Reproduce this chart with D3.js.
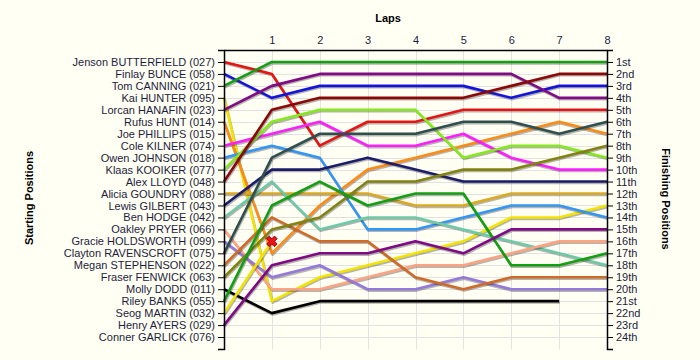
<!DOCTYPE html>
<html><head><meta charset="utf-8">
<script src="https://cdn.jsdelivr.net/npm/d3@7"></script>
<style>
html,body{margin:0;padding:0;background:#fffff4;}
svg{display:block;font-family:"Liberation Sans",Arial,sans-serif;}
</style>
</head><body>
<svg id="chart" width="700" height="360"></svg>
<script>
// ---------- data ----------
const laps = [0, 1, 2, 3, 4, 5, 6, 7, 8];
const lapLabels = ["", "1", "2", "3", "4", "5", "6", "7", "8"];
const startingGrid = [
  "Jenson BUTTERFIELD (027)", "Finlay BUNCE (058)", "Tom CANNING (021)", "Kai HUNTER (095)",
  "Lorcan HANAFIN (023)", "Rufus HUNT (014)", "Joe PHILLIPS (015)", "Cole KILNER (074)",
  "Owen JOHNSON (018)", "Klaas KOOIKER (077)", "Alex LLOYD (048)", "Alicia GOUNDRY (088)",
  "Lewis GILBERT (043)", "Ben HODGE (042)", "Oakley PRYER (066)", "Gracie HOLDSWORTH (099)",
  "Clayton RAVENSCROFT (075)", "Megan STEPHENSON (022)", "Fraser FENWICK (063)", "Molly DODD (011)",
  "Riley BANKS (055)", "Seog MARTIN (032)", "Henry AYERS (029)", "Conner GARLICK (076)"
];
const finishLabels = [
  "1st","2nd","3rd","4th","5th","6th","7th","8th","9th","10th","11th","12th",
  "13th","14th","15th","16th","17th","18th","19th","20th","21st","22nd","23rd","24th"
];
// positions by lap (lap 0 = starting grid)
const posButterfield = [1, 2, 8, 6, 6, 5, 5, 5, 5];
const posBunce       = [2, 4, 3, 3, 3, 3, 4, 3, 3];
const posCanning     = [3, 1, 1, 1, 1, 1, 1, 1, 1];
const posHunter      = [4, 21, 19, 18, 17, 16, 14, 14, 13];
const posHanafin     = [5, 3, 2, 2, 2, 2, 2, 4, 4];
const posHunt        = [6, 17, 13, 10, 9, 8, 7, 6, 7];
const posKilner      = [8, 7, 6, 8, 8, 7, 9, 10, 10];
const posJohnson     = [9, 8, 9, 15, 15, 14, 13, 13, 14];
const posKooiker     = [10, 6, 5, 5, 5, 9, 8, 8, 9];
const posLloyd       = [11, 5, 4, 4, 4, 4, 3, 2, 2];
const posGoundry     = [12, 12, 12, 12, 13, 13, 12, 12, 12];
const posGilbert     = [13, 10, 10, 9, 10, 11, 11, 11, 11];
const posHodge       = [14, 11, 15, 14, 14, 15, 16, 17, 18];
const posPryer       = [15, 20, 20, 19, 18, 18, 17, 16, 16];
const posHoldsworth  = [16, 19, 18, 20, 20, 19, 20, 20, 20];
const posRavenscroft = [17, 9, 7, 7, 7, 6, 6, 7, 6];
const posStephenson  = [18, 14, 16, 16, 19, 20, 19, 19, 19];
const posFenwick     = [19, 15, 14, 11, 11, 10, 10, 9, 8];
const posDodd        = [20, 22, 21, 21, 21, 21, 21, 21];
const posBanks       = [21, 13, 11, 13, 12, 12, 18, 18, 17];
const posMartin      = [22, 16];
const posAyers       = [23, 18, 17, 17, 16, 17, 15, 15, 15];
const retired = [{driver: "Seog MARTIN (032)", lap: 1, pos: 16}];

const series = [
  {driver: startingGrid[0],  pos: posButterfield, color: "#e81414"},
  {driver: startingGrid[1],  pos: posBunce,       color: "#1414dc"},
  {driver: startingGrid[2],  pos: posCanning,     color: "#12a012"},
  {driver: startingGrid[3],  pos: posHunter,      color: "#f2e400"},
  {driver: startingGrid[4],  pos: posHanafin,     color: "#800a86"},
  {driver: startingGrid[5],  pos: posHunt,        color: "#ff8a14"},
  {driver: startingGrid[7],  pos: posKilner,      color: "#ff1eff"},
  {driver: startingGrid[8],  pos: posJohnson,     color: "#3296f5"},
  {driver: startingGrid[9],  pos: posKooiker,     color: "#84ea1c"},
  {driver: startingGrid[10], pos: posLloyd,       color: "#8c0808"},
  {driver: startingGrid[11], pos: posGoundry,     color: "#dcaa22"},
  {driver: startingGrid[12], pos: posGilbert,     color: "#1c1c6c"},
  {driver: startingGrid[13], pos: posHodge,       color: "#6ccaa8"},
  {driver: startingGrid[14], pos: posPryer,       color: "#ffa482"},
  {driver: startingGrid[15], pos: posHoldsworth,  color: "#9478dc"},
  {driver: startingGrid[16], pos: posRavenscroft, color: "#2f4f4f"},
  {driver: startingGrid[17], pos: posStephenson,  color: "#d06a28"},
  {driver: startingGrid[18], pos: posFenwick,     color: "#828210"},
  {driver: startingGrid[19], pos: posDodd,        color: "#000000"},
  {driver: startingGrid[20], pos: posBanks,       color: "#12a012"},
  {driver: startingGrid[21], pos: posMartin,      color: "#f2e400"},
  {driver: startingGrid[22], pos: posAyers,       color: "#800a86"}
];

// ---------- layout ----------
const svg = d3.select("#chart");
const plotLeft = 224, plotRight = 607, plotTop = 50, plotBottom = 349;
const x = d3.scaleLinear().domain([0, 8]).range([plotLeft, plotRight]);
const y = d3.scaleLinear().domain([0, 25]).range([plotTop, plotBottom]);
const textColor = "#1c1c3c";

svg.append("rect").attr("width", 700).attr("height", 360).attr("fill", "#fffff4");

// grid
const grid = svg.append("g").attr("stroke", "#e2e2e2").attr("stroke-width", 1);
grid.selectAll("line.h").data(d3.range(1, 25)).join("line").attr("class", "h")
  .attr("x1", plotLeft).attr("x2", plotRight)
  .attr("y1", d => Math.round(y(d)) + 0.5).attr("y2", d => Math.round(y(d)) + 0.5);
grid.selectAll("line.v").data(laps.slice(1, 8)).join("line").attr("class", "v")
  .attr("y1", plotTop).attr("y2", plotBottom)
  .attr("x1", d => Math.round(x(d)) + 0.5).attr("x2", d => Math.round(x(d)) + 0.5);

// lines
const line = d3.line().x((d, i) => x(laps[i])).y(d => y(d));
const lines = svg.append("g").attr("fill", "none").attr("stroke-linejoin", "round");
series.forEach(s => {
  lines.append("path").attr("d", line(s.pos))
    .attr("stroke", "rgba(40,40,40,0.35)").attr("stroke-width", 2.6)
    .attr("transform", "translate(0.8,1.4)");
  lines.append("path").attr("d", line(s.pos))
    .attr("stroke", s.color).attr("stroke-width", 2.6);
});

// retirement markers
svg.selectAll("path.xmark").data(retired).join("path").attr("class", "xmark")
  .attr("d", d3.symbol(d3.symbolCross, 70)())
  .attr("transform", d => `translate(${x(d.lap)},${y(d.pos)}) rotate(45)`)
  .attr("fill", "#ee1111").attr("stroke", "#7a0000").attr("stroke-width", 0.8);

// axes
function styleAxis(g) {
  g.selectAll("path.domain").attr("stroke", "#000").attr("stroke-width", 1.5);
  g.selectAll(".tick line").attr("stroke", "#000");
  g.selectAll("text").attr("fill", textColor).attr("font-size", "11px")
    .attr("font-family", '"Liberation Sans", Arial, sans-serif');
}
svg.append("g").attr("transform", `translate(${plotLeft},0)`)
  .call(d3.axisLeft(y).tickValues(d3.range(0, 26)).tickSize(6).tickPadding(3)
    .tickFormat(d => startingGrid[d - 1] || ""))
  .call(styleAxis);
svg.append("g").attr("transform", `translate(${plotRight},0)`)
  .call(d3.axisRight(y).tickValues(d3.range(0, 26)).tickSize(6).tickPadding(3)
    .tickFormat(d => finishLabels[d - 1] || ""))
  .call(styleAxis);
svg.append("g").attr("transform", `translate(0,${plotTop})`)
  .call(d3.axisTop(x).tickValues(laps).tickSize(0).tickSizeOuter(0).tickPadding(6)
    .tickFormat((d, i) => lapLabels[i]))
  .call(styleAxis);

// titles
const title = (t, tx, ty, rot) => svg.append("text").text(t)
  .attr("transform", `translate(${tx},${ty}) rotate(${rot})`)
  .attr("text-anchor", "middle").attr("dominant-baseline", "central")
  .attr("font-size", "11px").attr("font-weight", "bold").attr("fill", "#000");
title("Laps", 388, 18, 0);
title("Starting Positions", 29, 198, -90);
title("Finishing Positions", 666, 199, 90);
</script>
</body></html>
